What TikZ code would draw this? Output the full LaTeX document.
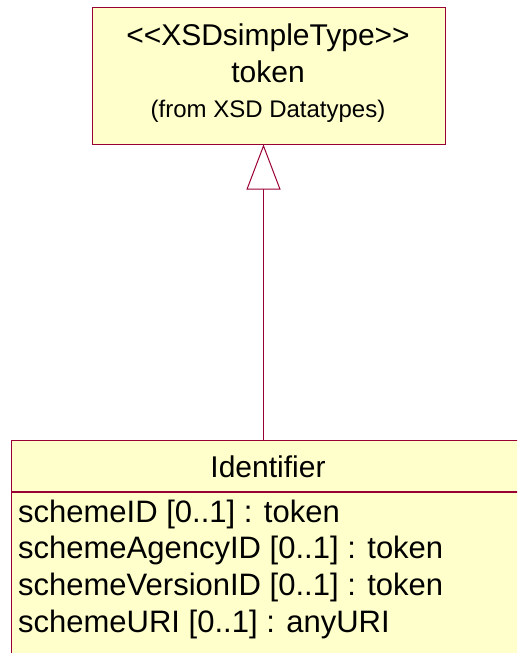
\documentclass[tikz,border=0pt]{standalone}
\usepackage{fontspec}
\setmainfont{Liberation Sans}
\usetikzlibrary{arrows.meta,positioning}
\definecolor{umlfill}{HTML}{FFFFCC}
\definecolor{umlline}{HTML}{990033}

\begin{document}
\begin{tikzpicture}[x=1pt, y=1pt,
  classbox/.style={draw=umlline, fill=umlfill, line width=1pt, inner sep=0pt},
  label/.style={inner sep=0pt, anchor=base, font=\fontsize{30}{36}\selectfont},
  attr/.style={inner sep=0pt, anchor=base west, font=\fontsize{31}{37}\selectfont}]
\useasboundingbox (0,0) rectangle (517,-653);
\clip (0,0) rectangle (517,-653);

% 类 token
\node[classbox, minimum width=353, minimum height=137] (tok) at (268.5,-75.5) {};
\node[label] (stereo) at (268,-45) {<\kern0pt<XSDsimpleType>\kern0pt>};
\node[label] (tokname) at (268,-82) {token};
\node[label, font=\fontsize{24}{28}\selectfont] (tokfrom) at (268,-117) {(from XSD Datatypes)};

% 类 Identifier
\node[classbox, minimum width=514, minimum height=51] (ident) at (268,-465.5) {};
\node[classbox, minimum width=514, minimum height=190, below=0pt of ident] (identattr) {};
\node[label] (identname) at (268,-477) {Identifier};

% 属性
\node[attr] (attr1) at (18,-522) {schemeID [0..1] : token};
\node[attr] (attr2) at (18,-558.7) {schemeAgencyID [0..1] : token};
\node[attr] (attr3) at (18,-595.4) {schemeVersionID [0..1] : token};
\node[attr] (attr4) at (18,-632) {schemeURI [0..1] : anyURI};

% 泛化
\draw[umlline, line width=1pt, -{Triangle[open, length=45pt, width=34pt, line width=1pt]}]
  ([xshift=-4.5pt]ident.north) -- ([xshift=-4.5pt]ident.north |- tok.south);
\end{tikzpicture}
\end{document}
